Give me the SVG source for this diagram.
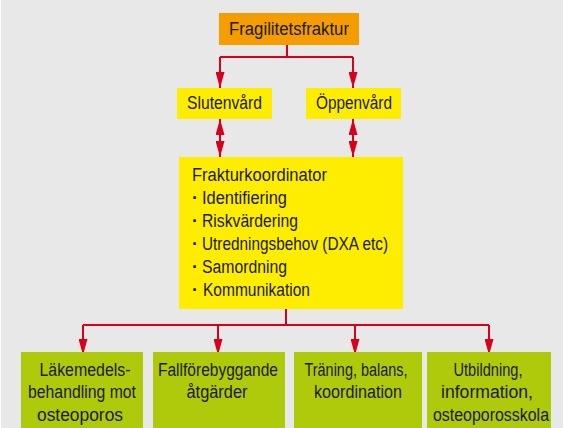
<svg xmlns="http://www.w3.org/2000/svg" width="563" height="428" viewBox="0 0 563 428">
<style>
text{font-family:"Liberation Sans",Arial,sans-serif;font-size:18px;fill:#1a1a1a}
.c{text-anchor:middle}
.b{font-weight:bold}
.ln{fill:none;stroke:#d9001b;stroke-width:2}
.or{fill:#f59c00}
.ye{fill:#ffed00}
.gr{fill:#afca0b}
</style>
<defs>
<marker id="ah" viewBox="0 0 16 9" refX="16" refY="4.5" markerWidth="16" markerHeight="9" markerUnits="userSpaceOnUse" orient="auto-start-reverse">
<path d="M0,0 L16,4.5 L0,9 Z" fill="#d9001b"/>
</marker>
</defs>
<rect x="0" y="0" width="563" height="428" fill="#ffffff"/>
<rect x="1" y="0" width="562" height="428" fill="#e8e8e8"/>
<g id="connectors">
<path class="ln" d="M287,45 V57 M220,57 H353"/>
<path class="ln" d="M220,57 V88" marker-end="url(#ah)"/>
<path class="ln" d="M353,57 V88" marker-end="url(#ah)"/>
<path class="ln" d="M220,119 V157" marker-start="url(#ah)" marker-end="url(#ah)"/>
<path class="ln" d="M353,119 V157" marker-start="url(#ah)" marker-end="url(#ah)"/>
<path class="ln" d="M286,309 V325 M83,325 H489"/>
<path class="ln" d="M83,325 V355" marker-end="url(#ah)"/>
<path class="ln" d="M218,325 V355" marker-end="url(#ah)"/>
<path class="ln" d="M355,325 V355" marker-end="url(#ah)"/>
<path class="ln" d="M489,325 V355" marker-end="url(#ah)"/>
</g>
<g id="fragilitetsfraktur">
<rect class="or" x="219" y="13" width="140" height="32"/>
<text class="c" x="289" y="35" textLength="120" lengthAdjust="spacingAndGlyphs">Fragilitetsfraktur</text>
</g>
<g id="slutenvard">
<rect class="ye" x="177" y="88" width="95" height="31"/>
<text class="c" x="224.5" y="109" textLength="75" lengthAdjust="spacingAndGlyphs">Slutenvård</text>
</g>
<g id="oppenvard">
<rect class="ye" x="306" y="88" width="95" height="31"/>
<text class="c" x="354" y="109" textLength="76" lengthAdjust="spacingAndGlyphs">Öppenvård</text>
</g>
<g id="frakturkoordinator">
<rect class="ye" x="179" y="157" width="224" height="152"/>
<text x="192" y="181" textLength="135" lengthAdjust="spacingAndGlyphs">Frakturkoordinator</text>
<text class="b" x="192" y="204">·</text><text x="202" y="204" textLength="85" lengthAdjust="spacingAndGlyphs">Identifiering</text>
<text class="b" x="192" y="227">·</text><text x="202" y="227" textLength="96" lengthAdjust="spacingAndGlyphs">Riskvärdering</text>
<text class="b" x="192" y="250">·</text><text x="202" y="250" textLength="186" lengthAdjust="spacingAndGlyphs">Utredningsbehov (DXA etc)</text>
<text class="b" x="192" y="273">·</text><text x="202" y="273" textLength="85" lengthAdjust="spacingAndGlyphs">Samordning</text>
<text class="b" x="192" y="296">·</text><text x="203" y="296" textLength="107" lengthAdjust="spacingAndGlyphs">Kommunikation</text>
</g>
<g id="lakemedel">
<rect class="gr" x="21" y="352" width="122" height="76"/>
<text class="c" x="85" y="376" textLength="91" lengthAdjust="spacingAndGlyphs">Läkemedels-</text>
<text class="c" x="82" y="398" textLength="108" lengthAdjust="spacingAndGlyphs">behandling mot</text>
<text class="c" x="80" y="421" textLength="86" lengthAdjust="spacingAndGlyphs">osteoporos</text>
</g>
<g id="fallforebyggande">
<rect class="gr" x="153" y="352" width="132" height="76"/>
<text class="c" x="218" y="376" textLength="120" lengthAdjust="spacingAndGlyphs">Fallförebyggande</text>
<text class="c" x="217" y="398" textLength="61" lengthAdjust="spacingAndGlyphs">åtgärder</text>
</g>
<g id="traning">
<rect class="gr" x="294" y="352" width="128" height="76"/>
<text class="c" x="356" y="376" textLength="103" lengthAdjust="spacingAndGlyphs">Träning, balans,</text>
<text class="c" x="358" y="398" textLength="88" lengthAdjust="spacingAndGlyphs">koordination</text>
</g>
<g id="utbildning">
<rect class="gr" x="427" y="352" width="124" height="76"/>
<text class="c" x="488" y="376" textLength="69" lengthAdjust="spacingAndGlyphs">Utbildning,</text>
<text class="c" x="487" y="398" textLength="92" lengthAdjust="spacingAndGlyphs">information,</text>
<text class="c" x="491" y="421" textLength="116" lengthAdjust="spacingAndGlyphs">osteoporosskola</text>
</g>
</svg>
